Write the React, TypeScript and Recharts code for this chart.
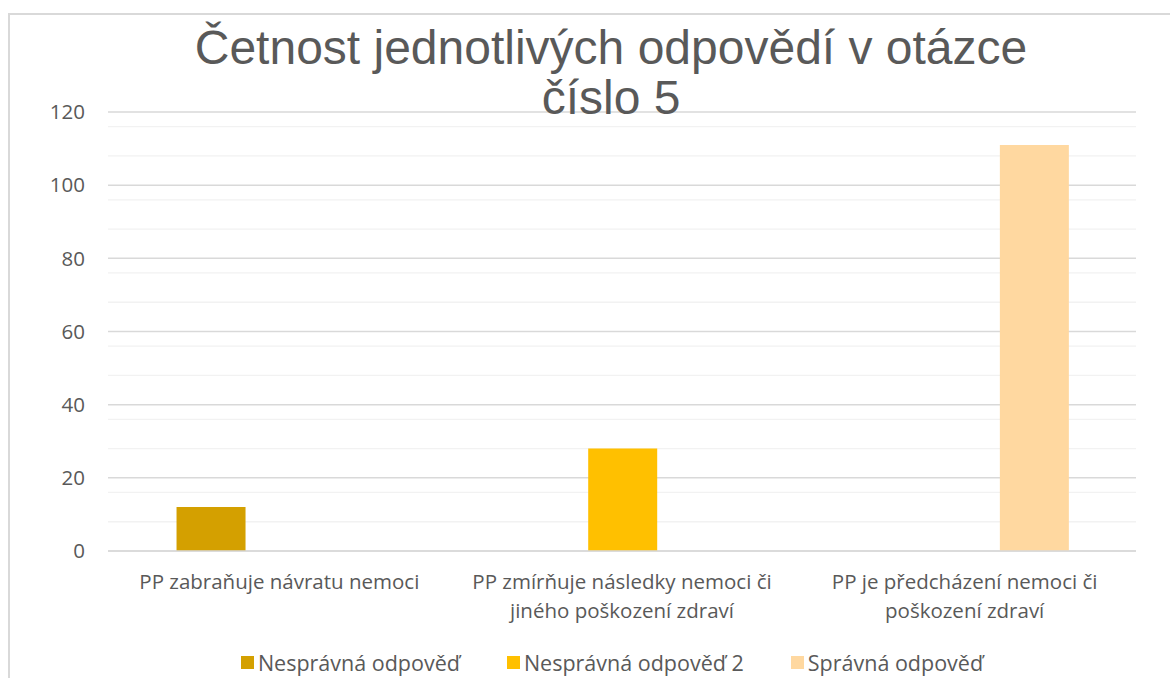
import { BarChart, Bar, XAxis, YAxis, CartesianGrid } from "recharts";

// categories (x axis)
const categories = [
  "PP zabraňuje návratu nemoci",
  "PP zmírňuje následky nemoci či jiného poškození zdraví",
  "PP je předcházení nemoci či poškození zdraví",
];

// series
const seriesNames = ["Nesprávná odpověď", "Nesprávná odpověď 2", "Správná odpověď"];
const seriesColors = ["#D4A000", "#FFC000", "#FFD8A0"];
const wrongAnswer = [12, 0, 0];
const wrongAnswer2 = [0, 28, 0];
const correctAnswer = [0, 0, 111];

// y axis
const yTicks = [0, 20, 40, 60, 80, 100, 120];
const minorTicks = [4, 8, 12, 16, 24, 28, 32, 36, 44, 48, 52, 56, 64, 68, 72, 76, 84, 88, 92, 96, 104, 108, 112, 116];

const title = ["Četnost jednotlivých odpovědí v otázce", "číslo 5"];

const data = categories.map((category, i) => ({
  category,
  s0: wrongAnswer[i],
  s1: wrongAnswer2[i],
  s2: correctAnswer[i],
}));

const textColor = "#595959";
const font = "'Open Sans', sans-serif";
const tickFontSize = 20.5;

// word wrap with canvas measuring, recharts' own measuring came out too narrow
let ctx: CanvasRenderingContext2D | null = null;
function wrapLabel(label: string, maxWidth: number) {
  if (!ctx) ctx = document.createElement("canvas").getContext("2d");
  ctx!.font = `${tickFontSize}px 'Open Sans'`;
  const lines: string[] = [];
  let current = "";
  for (const word of label.split(" ")) {
    const next = current ? current + " " + word : word;
    if (current && ctx!.measureText(next).width > maxWidth) {
      lines.push(current);
      current = word;
    } else {
      current = next;
    }
  }
  if (current) lines.push(current);
  return lines;
}

function CategoryTick({ x, y, payload }: any) {
  const lines = wrapLabel(payload.value, 330);
  return (
    <text
      x={x}
      y={y}
      textAnchor="middle"
      fontSize={tickFontSize}
      fontFamily={font}
      fill={textColor}
    >
      {lines.map((line, i) => (
        <tspan key={i} x={x} dy={i === 0 ? "0.7em" : 29}>
          {line}
        </tspan>
      ))}
    </text>
  );
}

export default function App() {
  return (
    <div
      style={{
        position: "absolute",
        left: 0,
        top: 0,
        width: 1170,
        height: 678,
        overflow: "hidden",
        background: "#fff",
        fontFamily: font,
      }}
    >
      {/* chart frame, only left and top edges visible */}
      <div
        style={{
          position: "absolute",
          left: 8,
          top: 13,
          width: 1300,
          height: 800,
          borderLeft: "2px solid #D9D9D9",
          borderTop: "2px solid #D9D9D9",
        }}
      />

      <div style={{ position: "absolute", left: 0, top: 0 }}>
        <BarChart
          width={1170}
          height={678}
          data={data}
          margin={{ top: 112, right: 34, bottom: 27, left: 0 }}
          barCategoryGap="20%"
          barGap={0}
        >
          <CartesianGrid
            vertical={false}
            horizontalValues={minorTicks}
            stroke="#F2F2F2"
            strokeWidth={1.3}
          />
          <CartesianGrid
            vertical={false}
            horizontalValues={yTicks}
            stroke="#D9D9D9"
            strokeWidth={1.5}
          />
          <XAxis
            dataKey="category"
            height={100}
            axisLine={{ stroke: "#D9D9D9", strokeWidth: 1.5 }}
            tickLine={false}
            tickMargin={18}
            interval={0}
            tick={<CategoryTick />}
          />
          <YAxis
            width={108}
            domain={[0, 120]}
            ticks={yTicks}
            axisLine={false}
            tickLine={false}
            tickMargin={17}
            tick={{ fontSize: 20.5, fill: textColor, fontFamily: font }}
          />
          {seriesNames.map((name, i) => (
            <Bar
              key={name}
              dataKey={`s${i}`}
              name={name}
              fill={seriesColors[i]}
              isAnimationActive={false}
            />
          ))}
        </BarChart>
      </div>

      {/* title */}
      <div
        style={{
          position: "absolute",
          left: 0,
          top: 23,
          width: 1222,
          textAlign: "center",
          fontFamily: "'Liberation Sans', Arial, sans-serif",
          fontSize: 48,
          lineHeight: "50px",
          color: textColor,
        }}
      >
        {title[0]}
        <br />
        {title[1]}
      </div>

      {/* legend */}
      <div
        style={{
          position: "absolute",
          left: 0,
          top: 647,
          width: 1224,
          height: 30,
          display: "flex",
          justifyContent: "center",
          alignItems: "center",
          gap: 47,
          fontSize: 21.5,
          color: textColor,
        }}
      >
        {seriesNames.map((name, i) => (
          <div key={name} style={{ display: "flex", alignItems: "center", gap: 4 }}>
            <div style={{ width: 13, height: 13, background: seriesColors[i] }} />
            <span>{name}</span>
          </div>
        ))}
      </div>
    </div>
  );
}
